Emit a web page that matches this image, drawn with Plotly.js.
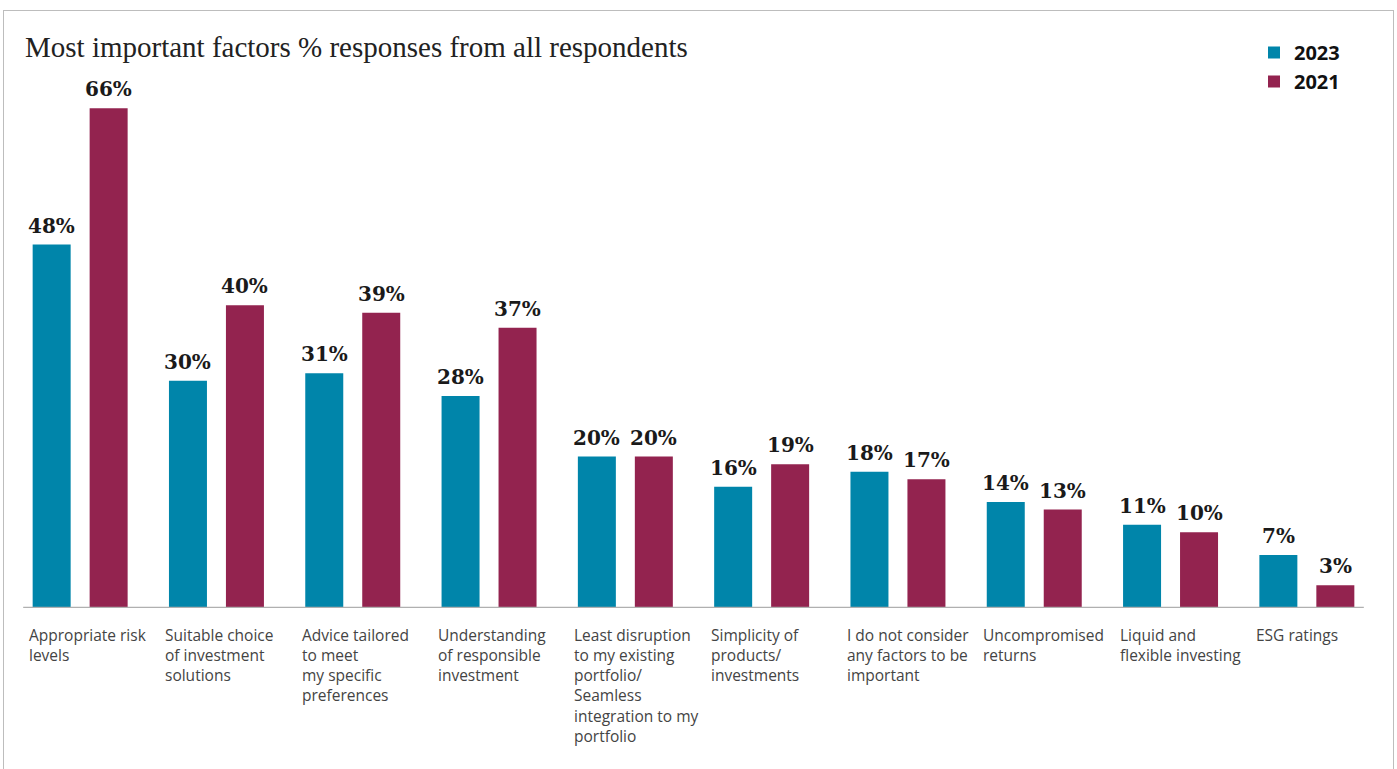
<!DOCTYPE html>
<html>
<head>
<meta charset="utf-8">
<script src="https://cdn.plot.ly/plotly-3.0.1.min.js"></script>
<style>
  html, body { margin: 0; padding: 0; background: #fff; }
  #wrap { position: relative; width: 1397px; height: 769px; overflow: hidden; }
  #chart { width: 1397px; height: 769px; }
  #frame { position: absolute; left: 3px; top: 10px; width: 1389px; height: 800px;
           border: 1.5px solid #bdbdbd; pointer-events: none; }
</style>
</head>
<body>
<div id="wrap">
  <div id="chart"></div>
  <div id="frame"></div>
</div>
<script>
const categories = [
  "Appropriate risk<br>levels",
  "Suitable choice<br>of investment<br>solutions",
  "Advice tailored<br>to meet<br>my specific<br>preferences",
  "Understanding<br>of responsible<br>investment",
  "Least disruption<br>to my existing<br>portfolio/<br>Seamless<br>integration to my<br>portfolio",
  "Simplicity of<br>products/<br>investments",
  "I do not consider<br>any factors to be<br>important",
  "Uncompromised<br>returns",
  "Liquid and<br>flexible investing",
  "ESG ratings"
];
const values2023 = [48, 30, 31, 28, 20, 16, 18, 14, 11, 7];
const values2021 = [66, 40, 39, 37, 20, 19, 17, 13, 10, 3];
const seriesNames = ["2023", "2021"];

const teal = "#0085AA";
const maroon = "#93234F";
const bargap = 0.164;
const idx = categories.map((_, i) => i);
const half = (1 - bargap) / 4;   // offset of each bar centre from category centre
const groupHalf = (1 - bargap) / 2;

const traces = [
  { type: "bar", name: seriesNames[0], x: idx, y: values2023, marker: { color: teal }, hoverinfo: "skip" },
  { type: "bar", name: seriesNames[1], x: idx, y: values2021, marker: { color: maroon }, hoverinfo: "skip" }
];

const annotations = [];
const labelFont = { family: "DejaVu Serif", size: 20, color: "#1a1a1a" };
idx.forEach(i => {
  annotations.push({ x: i - half, y: values2023[i], xref: "x", yref: "y", text: "<b>" + values2023[i] + "%</b>",
    showarrow: false, yanchor: "bottom", yshift: 5, font: labelFont });
  annotations.push({ x: i + half, y: values2021[i], xref: "x", yref: "y", text: "<b>" + values2021[i] + "%</b>",
    showarrow: false, yanchor: "bottom", yshift: 5, font: labelFont });
  annotations.push({ x: i - groupHalf, y: 0, xref: "x", yref: "y", text: categories[i],
    showarrow: false, xanchor: "left", yanchor: "top", align: "left", xshift: 4, yshift: -14,
    font: { family: "Open Sans", size: 15.5, color: "#444" } });
});

const layout = {
  width: 1397, height: 769,
  margin: { l: 12, r: 22, t: 78, b: 161, autoexpand: false },
  paper_bgcolor: "#fff", plot_bgcolor: "#fff",
  barmode: "group", bargap: bargap, bargroupgap: 0.333,
  title: { text: "Most important factors % responses from all respondents",
    xref: "container", yref: "container", x: 25 / 1397, xanchor: "left",
    y: 1 - 47 / 769, yanchor: "middle",
    font: { family: "Liberation Serif", size: 29, color: "#222" } },
  xaxis: { type: "linear", range: [-0.5, categories.length - 0.5], showticklabels: false,
    showgrid: false, zeroline: false, showline: false, fixedrange: true },
  yaxis: { range: [0, 70], showticklabels: false, showgrid: false, zeroline: false, showline: false, fixedrange: true },
  showlegend: true,
  legend: { xref: "container", yref: "container", x: 1254 / 1397, y: 1 - 33 / 769,
    xanchor: "left", yanchor: "top", bgcolor: "rgba(0,0,0,0)",
    font: { family: "Open Sans", size: 20, color: "#111", weight: "bold" },
    itemwidth: 30, tracegroupgap: 0 },
  shapes: [{ type: "line", xref: "x", yref: "y", x0: -groupHalf, x1: categories.length - 1 + groupHalf,
    y0: 0, y1: 0, line: { color: "#b0b0b0", width: 2.5 } }],
  annotations: annotations
};

Plotly.newPlot("chart", traces, layout, { displayModeBar: false, staticPlot: true });
</script>
</body>
</html>
